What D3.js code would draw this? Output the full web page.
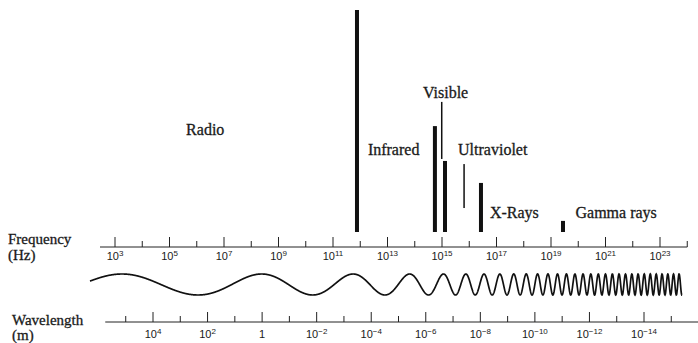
<!DOCTYPE html>
<html>
<head>
<meta charset="utf-8">
<script src="https://cdn.jsdelivr.net/npm/d3@7"></script>
<style>
  body { margin: 0; background: #fff; }
  text { fill: #1a1a1a; }
</style>
</head>
<body>
<svg id="chart"></svg>
<script>
// band names, where each label starts (log10 Hz) and its height on the 0-100 marker scale
var bandNames = ['Radio', 'Infrared', 'Visible', 'Ultraviolet', 'X-Rays', 'Gamma rays'];
var bandLabelExp = [5.61, 12.28, 14.30, 15.59, 16.76, 19.9];
var bandLabelLevel = [43.7, 34.7, 60.4, 34.7, 6.3, 6.3];

// vertical markers: log10 of frequency, top / bottom on the 0-100 scale, thick or thin
var markExp = [11.88, 14.74, 14.99, 15.11, 15.81, 16.43, 19.44];
var markTop = [100, 47.7, 58.6, 32.0, 30.6, 22.1, 5.0];
var markBottom = [0, 0, 32.9, 0, 10.8, 0, 0];
var markKind = ['thick', 'thick', 'thin', 'thick', 'thin', 'thick', 'thick'];

// tick exponents
var freqTickExps = d3.range(3, 25);          // 10^3 .. 10^24
var waveTickExps = d3.range(5, -16, -1);     // 10^5 .. 10^-15

var width = 698, height = 343;

var svg = d3.select('svg#chart')
  .attr('width', width)
  .attr('height', height)
  .style('font-family', '"Liberation Serif", serif');

var fScale = d3.scaleLog().domain([1e3, 1e23]).range([115, 660]);
var wScale = d3.scaleLog().domain([1e4, 1e-14]).range([153, 644]);
var yScale = d3.scaleLinear().domain([0, 100]).range([232, 10]);

var freqAxisY = 247;
var waveAxisY = 322;

// markers
var marks = markExp.map(function (e, i) {
  return { exp: e, top: markTop[i], bottom: markBottom[i], kind: markKind[i] };
});

svg.append('g')
  .selectAll('rect')
  .data(marks)
  .enter()
  .append('rect')
    .attr('x', function (d) { return fScale(Math.pow(10, d.exp)) - (d.kind === 'thick' ? 2 : 0.75); })
    .attr('width', function (d) { return d.kind === 'thick' ? 4 : 1.5; })
    .attr('y', function (d) { return yScale(d.top); })
    .attr('height', function (d) { return yScale(d.bottom) - yScale(d.top); })
    .style('fill', '#111');

// band labels
svg.append('g')
  .selectAll('text')
  .data(bandNames)
  .enter()
  .append('text')
    .attr('x', function (d, i) { return fScale(Math.pow(10, bandLabelExp[i])); })
    .attr('y', function (d, i) { return yScale(bandLabelLevel[i]); })
    .style('font-size', '16px')
    .style('stroke', '#1a1a1a')
    .style('stroke-width', 0.3)
    .text(function (d) { return d; });

// draws one log axis: ticks pointing up, major on every other decade
function drawAxis(scale, exps, y, x0, x1, isMajor, labelY, labelText) {
  var g = svg.append('g').style('stroke', '#222');

  g.append('line')
    .attr('x1', x0).attr('x2', x1)
    .attr('y1', y).attr('y2', y)
    .style('stroke-width', 1);

  g.selectAll('line.tick')
    .data(exps)
    .enter()
    .append('line')
      .attr('class', 'tick')
      .attr('x1', function (d) { return scale(Math.pow(10, d)); })
      .attr('x2', function (d) { return scale(Math.pow(10, d)); })
      .attr('y1', y)
      .attr('y2', function (d) { return isMajor(d) ? y - 10 : y - 6; })
      .style('stroke-width', 1);

  var labels = svg.append('g')
    .selectAll('text')
    .data(exps.filter(isMajor))
    .enter()
    .append('text')
      .attr('x', function (d) { return scale(Math.pow(10, d)); })
      .attr('y', labelY)
      .attr('text-anchor', 'middle')
      .style('font-family', '"Liberation Sans", sans-serif')
      .style('font-size', '11px');

  labels.each(function (d) {
    var t = d3.select(this);
    var txt = labelText(d);
    if (txt === null) {
      t.text('1');
      return;
    }
    t.append('tspan').text('10');
    t.append('tspan')
      .attr('dy', -4.5)
      .style('font-size', '8px')
      .text(txt);
  });
}

drawAxis(fScale, freqTickExps, freqAxisY,
  fScale(Math.pow(10, 2.45)), fScale(1e24),
  function (e) { return e % 2 !== 0 && e <= 23; },
  260,
  function (e) { return String(e); });

drawAxis(wScale, waveTickExps, waveAxisY,
  wScale(Math.pow(10, 5.75)), width,
  function (e) { return e % 2 === 0; },
  338,
  function (e) { return e === 0 ? null : String(e).replace('-', '\u2212'); });

// axis titles
var titles = [
  { text: 'Frequency', x: 8, y: 244 },
  { text: '(Hz)', x: 8, y: 260 },
  { text: 'Wavelength', x: 12, y: 325 },
  { text: '(m)', x: 12, y: 340 }
];

svg.append('g')
  .selectAll('text')
  .data(titles)
  .enter()
  .append('text')
    .attr('x', function (d) { return d.x; })
    .attr('y', function (d) { return d.y; })
    .style('font-size', '15px')
    .style('stroke', '#1a1a1a')
    .style('stroke-width', 0.3)
    .text(function (d) { return d.text; });

// decorative chirp between the axes: local period (px) read at a few x positions
var chirpX = [90, 195, 314, 388, 432, 458, 515, 560, 620, 682];
var chirpPeriod = [165, 146, 92, 56, 32, 21, 13, 9, 6.5, 5.5];
var periodAt = d3.scaleLinear().domain(chirpX).range(chirpPeriod.map(Math.log));

var wavePts = [];
var phase = 0, peakPhase = 0;
for (var x = chirpX[0]; x <= chirpX[chirpX.length - 1]; x += 0.25) {
  wavePts.push([x, phase]);
  if (Math.abs(x - 122) < 0.01) peakPhase = phase;
  phase += 2 * Math.PI * 0.25 / Math.exp(periodAt(x));
}

var line = d3.line()
  .x(function (d) { return d[0]; })
  .y(function (d) { return 284.5 - 10.5 * Math.cos(d[1] - peakPhase); });

svg.append('path')
  .datum(wavePts)
  .attr('d', line)
  .style('fill', 'none')
  .style('stroke', '#111')
  .style('stroke-width', 1.7);
</script>
</body>
</html>
